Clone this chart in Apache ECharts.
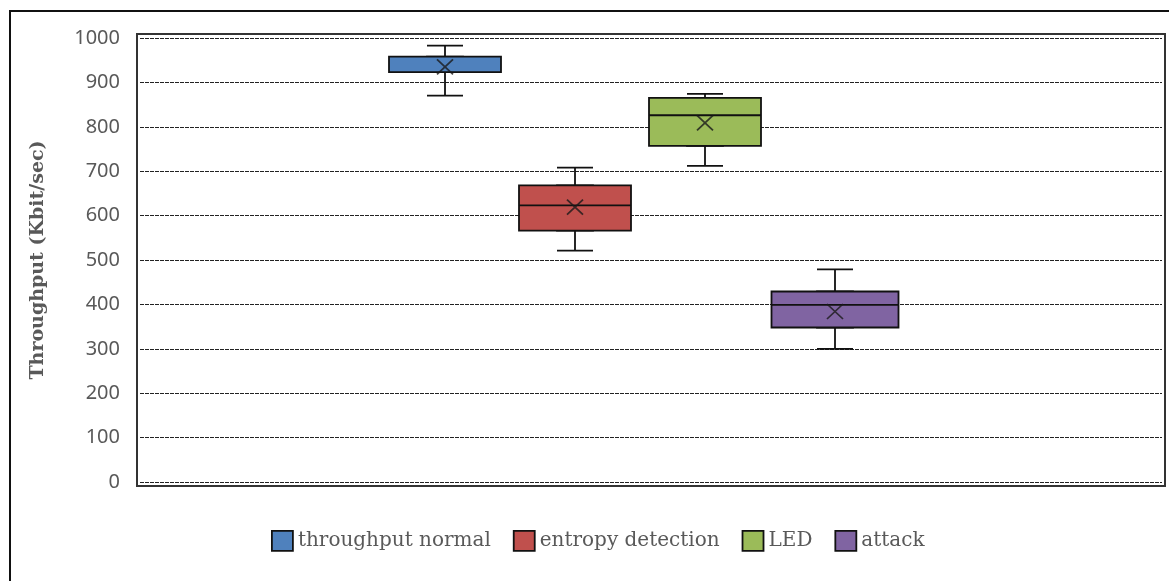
<!DOCTYPE html>
<html><head><meta charset="utf-8">
<script src="https://cdn.jsdelivr.net/npm/echarts@6/dist/echarts.min.js"></script>
<style>html,body{margin:0;padding:0;background:#fff}#c{width:1169px;height:581px}</style>
</head><body><div id="c"></div>
<script>
// ---- data ----
const seriesNames = ['throughput normal', 'entropy detection', 'LED', 'attack'];
const slotCategories = ['', '', 'throughput normal', 'entropy detection', 'LED', 'attack', '', ''];
// [min, Q1, median, Q3, max]
const normalBox  = [870, 923, 958, 958, 983];
const entropyBox = [521, 566, 623, 668, 708];
const ledBox     = [712, 757, 826, 865, 874];
const attackBox  = [300, 348, 399, 429, 479];
const meanValues = [935, 619, 809, 384];
const yMin = 0, yMax = 1000, yStep = 100;

// ---- style ----
const colors = ['#4F81BD', '#C0504D', '#9BBB59', '#8064A2'];
const boxWidths = [112, 112, 112, 127];
const capWidth = 36;
const boxes = [normalBox, entropyBox, ledBox, attackBox];

const chart = echarts.init(document.getElementById('c'), null, {renderer: 'canvas'});

const xAxes = [{type: 'category', gridIndex: 0, data: [''], show: false}];
for (let k = 0; k < seriesNames.length * 2; k++) {
  xAxes.push({type: 'category', gridIndex: 1, data: slotCategories, show: false});
}

const series = [];
boxes.forEach((b, i) => {
  // whiskers with narrow caps (underneath)
  series.push({
    type: 'boxplot',
    name: seriesNames[i] + ' whisker',
    xAxisIndex: 1 + i * 2,
    yAxisIndex: 1,
    encode: {x: 0, y: [1, 2, 3, 4, 5]},
    data: [[seriesNames[i]].concat(b)],
    boxWidth: [capWidth, capWidth],
    itemStyle: {color: 'transparent', borderColor: '#111', borderWidth: 1.8},
    silent: true, z: 2
  });
  // box body (Q1..Q3 with median)
  series.push({
    type: 'boxplot',
    name: seriesNames[i],
    xAxisIndex: 2 + i * 2,
    yAxisIndex: 1,
    encode: {x: 0, y: [1, 2, 3, 4, 5]},
    data: [[seriesNames[i], b[1], b[1], b[2], b[3], b[3]]],
    boxWidth: [boxWidths[i], boxWidths[i]],
    itemStyle: {color: colors[i], borderColor: '#111', borderWidth: 1.8},
    silent: true, z: 3
  });
});
series.push({
  type: 'scatter',
  name: 'mean',
  xAxisIndex: 1,
  yAxisIndex: 1,
  data: seriesNames.map((n, i) => [n, meanValues[i]]),
  symbol: 'path://M0,0L10,10M10,0L0,10',
  symbolSize: [16, 15],
  itemStyle: {color: 'transparent', borderColor: '#1a1a1a', borderWidth: 1.7},
  silent: true,
  z: 5
});

chart.setOption({
  animation: false,
  backgroundColor: '#fff',
  grid: [
    {left: 140, right: 7, top: 38, bottom: 99},
    {left: 120, right: 9, top: 38, bottom: 99}
  ],
  xAxis: xAxes,
  yAxis: [
    {
      type: 'value', gridIndex: 0, min: yMin, max: yMax, interval: yStep,
      name: 'Throughput (Kbit/sec)', nameLocation: 'middle', nameGap: 92,
      nameTextStyle: {fontFamily: 'DejaVu Serif', fontWeight: 'bold', fontSize: 19, color: '#595959'},
      axisLine: {show: false}, axisTick: {show: false},
      axisLabel: {fontFamily: 'Noto Sans', fontSize: 20, color: '#595959', margin: 20, formatter: v => String(v)},
      splitLine: {show: true, lineStyle: {color: '#222', width: 1, type: [4, 1]}}
    },
    {type: 'value', gridIndex: 1, min: yMin, max: yMax, show: false, splitLine: {show: false}}
  ],
  legend: {
    data: seriesNames.map((n, i) => ({name: n, itemStyle: {color: colors[i], borderColor: '#111', borderWidth: 1.8}})),
    left: 266, top: 525,
    icon: 'rect', itemWidth: 21, itemHeight: 20, itemGap: 22,
    textStyle: {fontFamily: 'DejaVu Serif', fontSize: 20, color: '#595959'},
    selectedMode: false
  },
  graphic: [
    {type: 'rect', shape: {x: 10, y: 11, width: 1200, height: 620}, style: {fill: 'none', stroke: '#111', lineWidth: 2}, silent: true},
    {type: 'rect', shape: {x: 137, y: 34, width: 1028, height: 452}, style: {fill: 'none', stroke: '#333', lineWidth: 2}, silent: true, z: 10}
  ],
  series: series
});
</script></body></html>
